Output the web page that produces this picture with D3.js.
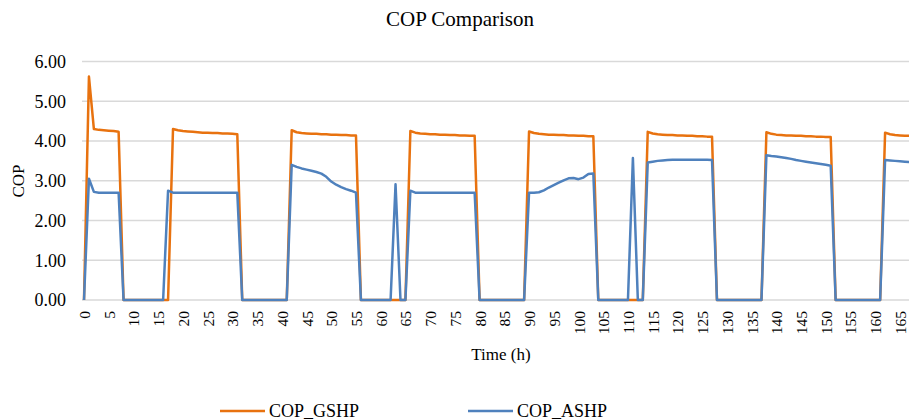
<!DOCTYPE html>
<html>
<head>
<meta charset="utf-8">
<script src="https://cdn.jsdelivr.net/npm/d3@7"></script>
<style>
  html, body { margin: 0; padding: 0; background: #fff; }
  svg { display: block; font-family: "Liberation Serif", "Times New Roman", serif; }
</style>
</head>
<body>
<svg id="chart" width="909" height="420"></svg>
<script>
// Hourly COP of the ground-source and air-source heat pumps over one week
const hours = d3.range(0, 168);

const copGSHP = [
  0, 5.62, 4.30, 4.28, 4.27, 4.26, 4.25, 4.23,
  0, 0, 0, 0, 0, 0, 0, 0, 0, 0,
  4.30, 4.27, 4.25, 4.24, 4.23, 4.22, 4.21, 4.21, 4.20, 4.20, 4.19, 4.19, 4.18, 4.17,
  0, 0, 0, 0, 0, 0, 0, 0, 0, 0,
  4.27, 4.22, 4.20, 4.19, 4.18, 4.18, 4.17, 4.17, 4.16, 4.16, 4.15, 4.15, 4.14, 4.14,
  0, 0, 0, 0, 0, 0, 0, 0, 0, 0,
  4.25, 4.21, 4.19, 4.18, 4.17, 4.17, 4.16, 4.16, 4.15, 4.15, 4.14, 4.14, 4.13, 4.13,
  0, 0, 0, 0, 0, 0, 0, 0, 0, 0,
  4.24, 4.20, 4.18, 4.17, 4.16, 4.16, 4.15, 4.15, 4.14, 4.14, 4.13, 4.13, 4.12, 4.12,
  0, 0, 0, 0, 0, 0, 0, 0, 0, 0,
  4.23, 4.19, 4.17, 4.16, 4.15, 4.15, 4.14, 4.14, 4.13, 4.13, 4.12, 4.12, 4.11, 4.11,
  0, 0, 0, 0, 0, 0, 0, 0, 0, 0,
  4.22, 4.18, 4.16, 4.15, 4.14, 4.14, 4.13, 4.13, 4.12, 4.12, 4.11, 4.11, 4.10, 4.10,
  0, 0, 0, 0, 0, 0, 0, 0, 0, 0,
  4.21, 4.17, 4.15, 4.14, 4.13, 4.13
];

const copASHP = [
  0, 3.05, 2.72, 2.70, 2.70, 2.70, 2.70, 2.70,
  0, 0, 0, 0, 0, 0, 0, 0, 0,
  2.75,
  2.70, 2.70, 2.70, 2.70, 2.70, 2.70, 2.70, 2.70, 2.70, 2.70, 2.70, 2.70, 2.70, 2.70,
  0, 0, 0, 0, 0, 0, 0, 0, 0, 0,
  3.40, 3.35, 3.31, 3.28, 3.25, 3.22, 3.18, 3.10, 2.98, 2.90, 2.84, 2.79, 2.75, 2.70,
  0, 0, 0, 0, 0, 0, 0,
  2.91,
  0, 0,
  2.75, 2.70, 2.70, 2.70, 2.70, 2.70, 2.70, 2.70, 2.70, 2.70, 2.70, 2.70, 2.70, 2.70,
  0, 0, 0, 0, 0, 0, 0, 0, 0, 0,
  2.70, 2.70, 2.71, 2.76, 2.83, 2.89, 2.95, 3.01, 3.06, 3.07, 3.04, 3.08, 3.17, 3.18,
  0, 0, 0, 0, 0, 0, 0,
  3.57,
  0, 0,
  3.46, 3.48, 3.50, 3.51, 3.52, 3.53, 3.53, 3.53, 3.53, 3.53, 3.53, 3.53, 3.53, 3.52,
  0, 0, 0, 0, 0, 0, 0, 0, 0, 0,
  3.64, 3.62, 3.61, 3.59, 3.57, 3.55, 3.52, 3.50, 3.48, 3.46, 3.44, 3.42, 3.40, 3.38,
  0, 0, 0, 0, 0, 0, 0, 0, 0, 0,
  3.52, 3.51, 3.50, 3.49, 3.48, 3.47
];

const xTickValues = d3.range(0, 170, 5);
const yTickValues = [0, 1, 2, 3, 4, 5, 6];

const seriesNames = ["COP_GSHP", "COP_ASHP"];
const seriesColors = ["#E8720F", "#4F81BD"];

const svg = d3.select("#chart");
const W = 909;

const x = d3.scaleLinear().domain([0, 167]).range([84, 84 + 167 * 4.945]);
const y = d3.scaleLinear().domain([0, 6]).range([300, 61.5]);

// Title
svg.append("text")
  .attr("x", 460).attr("y", 26)
  .attr("text-anchor", "middle")
  .attr("font-size", 21)
  .attr("fill", "#000")
  .text("COP Comparison");

// Horizontal gridlines (the one at 0 doubles as the category axis line)
svg.append("g")
  .selectAll("line")
  .data(yTickValues)
  .join("line")
  .attr("x1", 82).attr("x2", W)
  .attr("y1", d => y(d)).attr("y2", d => y(d))
  .attr("stroke", "#d9d9d9")
  .attr("stroke-width", 1.5);

// Y axis labels
const yAxis = svg.append("g")
  .attr("transform", "translate(70,0)")
  .call(d3.axisLeft(y).tickValues(yTickValues).tickFormat(d3.format(".2f")).tickSize(0).tickPadding(4));
yAxis.select(".domain").remove();
yAxis.selectAll("text")
  .attr("font-family", "Liberation Serif, Times New Roman, serif")
  .attr("font-size", 18)
  .attr("fill", "#000");

// X axis labels, rotated
const xAxis = svg.append("g")
  .attr("transform", "translate(0,300)")
  .call(d3.axisBottom(x).tickValues(xTickValues).tickFormat(d3.format("d")).tickSize(0));
xAxis.select(".domain").remove();
xAxis.selectAll("text")
  .attr("font-family", "Liberation Serif, Times New Roman, serif")
  .attr("font-size", 15.5)
  .attr("fill", "#000")
  .attr("text-anchor", "end")
  .attr("dy", null)
  .attr("y", 0)
  .attr("dominant-baseline", "central")
  .attr("transform", "translate(0,11) rotate(-90)");

// Axis titles
svg.append("text")
  .attr("transform", "translate(18,181) rotate(-90)")
  .attr("text-anchor", "middle")
  .attr("dominant-baseline", "central")
  .attr("font-size", 17)
  .text("COP");

svg.append("text")
  .attr("x", 501).attr("y", 360)
  .attr("text-anchor", "middle")
  .attr("font-size", 17)
  .text("Time (h)");

// Series lines
const series = [copGSHP, copASHP];
const line = d3.line()
  .x((d, i) => x(hours[i]))
  .y(d => y(d));

svg.append("g")
  .selectAll("path")
  .data(series)
  .join("path")
  .attr("d", d => line(d))
  .attr("fill", "none")
  .attr("stroke", (d, i) => seriesColors[i])
  .attr("stroke-width", 2.5)
  .attr("stroke-linejoin", "round");

// Legend
const legendX = [220, 468];
const legend = svg.append("g")
  .selectAll("g")
  .data(seriesNames)
  .join("g")
  .attr("transform", (d, i) => `translate(${legendX[i]},411)`);
legend.append("line")
  .attr("x1", 0).attr("x2", 45)
  .attr("stroke", (d, i) => seriesColors[i])
  .attr("stroke-width", 2.5);
legend.append("text")
  .attr("x", 49)
  .attr("dominant-baseline", "central")
  .attr("font-size", 18)
  .text(d => d);
</script>
</body>
</html>
